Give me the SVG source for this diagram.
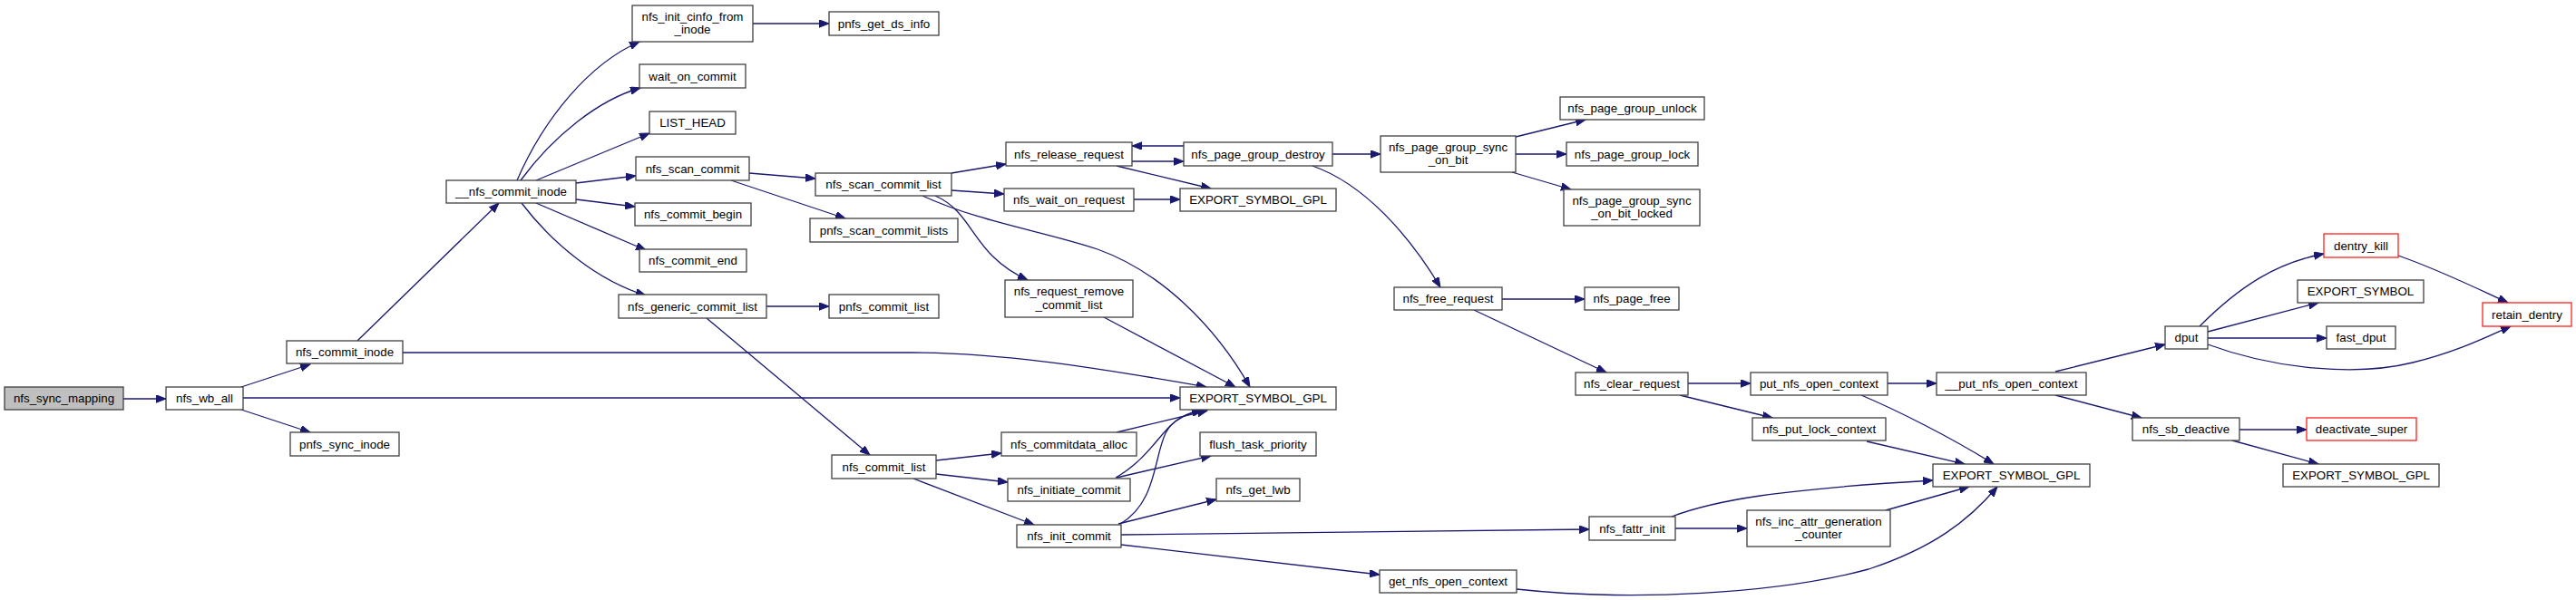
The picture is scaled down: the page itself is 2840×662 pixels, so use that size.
<svg xmlns="http://www.w3.org/2000/svg" width="2840" height="662" viewBox="0 0 2840 662">
<style>
.n rect{fill:#fff;stroke:#404040;stroke-width:1.3}
.root rect{fill:#bfbfbf}
.red rect{stroke:#ff2020}
text{font-family:"Liberation Sans",Arial,Helvetica,sans-serif;font-size:13.33px;fill:#000;text-anchor:middle}
#edges path{fill:none;stroke:#191970;stroke-width:1.3;marker-end:url(#arr)}
</style>
<defs>
<marker id="arr" markerUnits="userSpaceOnUse" markerWidth="12" markerHeight="9" refX="11" refY="4.25" orient="auto">
<path d="M0,0 L11,4.25 L0,8.5 z" fill="#191970" stroke="#191970" stroke-width="1"/>
</marker>
</defs>
<rect width="2840" height="662" fill="#fff"/>
<g id="edges">
<path d="M136,440 L183,440"/>
<path d="M266,427 L342,402"/>
<path d="M268,439 L1301,439"/>
<path d="M266,452 L342,477"/>
<path d="M394,376 L550,224"/>
<path d="M444,389 L1004,389 C1100,389 1200,404 1330,427"/>
<path d="M570,199 C600,130 650,70 705,46"/>
<path d="M574,199 C610,150 660,110 706,97"/>
<path d="M591,199 L716,147"/>
<path d="M635,202 L701,194"/>
<path d="M635,220 L700,228"/>
<path d="M591,224 L712,276"/>
<path d="M575,224 C610,270 660,310 712,326"/>
<path d="M830,26 L914,26"/>
<path d="M826,191 L899,197"/>
<path d="M806,199 L932,241"/>
<path d="M845,338 L914,338"/>
<path d="M779,351 L959,502"/>
<path d="M1049,191 L1109,181"/>
<path d="M1049,210 L1107,214"/>
<path d="M1031,216 C1075,235 1070,280 1133,309"/>
<path d="M1017,216 C1080,245 1150,255 1210,275 C1280,300 1340,360 1378,427"/>
<path d="M1248,178 L1305,178"/>
<path d="M1305,161 L1248,161"/>
<path d="M1231,183 L1335,208"/>
<path d="M1250,220 L1301,220"/>
<path d="M1469,170 L1522,170"/>
<path d="M1447,183 C1510,205 1560,270 1588,317"/>
<path d="M1671,151 L1748,132"/>
<path d="M1671,170 L1727,170"/>
<path d="M1667,190 L1732,209"/>
<path d="M1217,350 L1362,427"/>
<path d="M1656,330 L1747,330"/>
<path d="M1625,342 L1771,411"/>
<path d="M1861,423 L1930,423"/>
<path d="M1852,436 L1954,461"/>
<path d="M2081,423 L2135,423"/>
<path d="M2052,436 C2090,452 2150,482 2198,512"/>
<path d="M2058,487 L2166,512"/>
<path d="M1843,570 C1890,552 1960,540 2131,530"/>
<path d="M1847,583 L1926,583"/>
<path d="M2079,563 L2171,537"/>
<path d="M1672,650 C1800,664 1960,655 2060,628 C2130,605 2170,575 2202,537"/>
<path d="M1236,590 L1752,584"/>
<path d="M1236,601 L1521,634"/>
<path d="M1233,578 L1341,551"/>
<path d="M1235,578 C1275,555 1272,505 1285,478 C1293,462 1310,456 1325,452"/>
<path d="M1230,527 C1260,510 1275,485 1290,470 C1300,460 1312,455 1327,452"/>
<path d="M1231,527 L1335,503"/>
<path d="M1231,477 L1331,453"/>
<path d="M1032,508 L1104,500"/>
<path d="M1032,523 L1111,532"/>
<path d="M1007,528 L1140,579"/>
<path d="M2266,410 L2387,380"/>
<path d="M2266,436 L2361,461"/>
<path d="M2425,360 C2470,315 2510,290 2562,280"/>
<path d="M2434,366 L2556,334"/>
<path d="M2434,373 L2565,373"/>
<path d="M2434,380 C2510,408 2600,415 2660,400 C2710,388 2745,370 2768,360"/>
<path d="M2644,282 C2690,298 2730,318 2765,334"/>
<path d="M2469,474 L2543,474"/>
<path d="M2461,486 L2556,512"/>
</g>
<g id="nfs_sync_mapping" class="n root"><rect x="5" y="427" width="131" height="25"/><text x="70.5" y="444">nfs_sync_mapping</text></g>
<g id="nfs_wb_all" class="n"><rect x="183" y="427" width="85" height="25"/><text x="225.5" y="444">nfs_wb_all</text></g>
<g id="nfs_commit_inode" class="n"><rect x="316" y="376" width="128" height="25"/><text x="380" y="393">nfs_commit_inode</text></g>
<g id="pnfs_sync_inode" class="n"><rect x="320" y="477" width="120" height="26"/><text x="380" y="494.5">pnfs_sync_inode</text></g>
<g id="__nfs_commit_inode" class="n"><rect x="492" y="199" width="143" height="25"/><text x="563.5" y="216">__nfs_commit_inode</text></g>
<g id="nfs_init_cinfo_from_inode" class="n"><rect x="697" y="6" width="133" height="40"/><text x="763.5" y="22.5">nfs_init_cinfo_from</text><text x="763.5" y="37">_inode</text></g>
<g id="wait_on_commit" class="n"><rect x="705" y="71" width="117" height="26"/><text x="763.5" y="88.5">wait_on_commit</text></g>
<g id="LIST_HEAD" class="n"><rect x="716" y="123" width="95" height="25"/><text x="763.5" y="140">LIST_HEAD</text></g>
<g id="nfs_scan_commit" class="n"><rect x="701" y="173" width="125" height="26"/><text x="763.5" y="190.5">nfs_scan_commit</text></g>
<g id="nfs_commit_begin" class="n"><rect x="700" y="224" width="128" height="25"/><text x="764" y="241">nfs_commit_begin</text></g>
<g id="nfs_commit_end" class="n"><rect x="705" y="275" width="118" height="25"/><text x="764" y="292">nfs_commit_end</text></g>
<g id="nfs_generic_commit_list" class="n"><rect x="682" y="325" width="163" height="26"/><text x="763.5" y="342.5">nfs_generic_commit_list</text></g>
<g id="pnfs_get_ds_info" class="n"><rect x="914" y="13" width="121" height="26"/><text x="974.5" y="30.5">pnfs_get_ds_info</text></g>
<g id="nfs_scan_commit_list" class="n"><rect x="899" y="191" width="150" height="25"/><text x="974" y="208">nfs_scan_commit_list</text></g>
<g id="pnfs_scan_commit_lists" class="n"><rect x="893" y="241" width="163" height="26"/><text x="974.5" y="258.5">pnfs_scan_commit_lists</text></g>
<g id="pnfs_commit_list" class="n"><rect x="914" y="325" width="121" height="26"/><text x="974.5" y="342.5">pnfs_commit_list</text></g>
<g id="nfs_release_request" class="n"><rect x="1109" y="157" width="139" height="26"/><text x="1178.5" y="174.5">nfs_release_request</text></g>
<g id="nfs_wait_on_request" class="n"><rect x="1107" y="208" width="143" height="25"/><text x="1178.5" y="225">nfs_wait_on_request</text></g>
<g id="nfs_request_remove_commit_list" class="n"><rect x="1108" y="309" width="141" height="41"/><text x="1178.5" y="325.5">nfs_request_remove</text><text x="1178.5" y="340.5">_commit_list</text></g>
<g id="nfs_page_group_destroy" class="n"><rect x="1305" y="157" width="164" height="26"/><text x="1387" y="174.5">nfs_page_group_destroy</text></g>
<g id="EXPORT_SYMBOL_GPL_1" class="n"><rect x="1301" y="208" width="172" height="25"/><text x="1387" y="225">EXPORT_SYMBOL_GPL</text></g>
<g id="EXPORT_SYMBOL_GPL_2" class="n"><rect x="1301" y="427" width="172" height="25"/><text x="1387" y="444">EXPORT_SYMBOL_GPL</text></g>
<g id="nfs_commit_list" class="n"><rect x="917" y="502" width="115" height="26"/><text x="974.5" y="519.5">nfs_commit_list</text></g>
<g id="nfs_commitdata_alloc" class="n"><rect x="1104" y="477" width="149" height="26"/><text x="1178.5" y="494.5">nfs_commitdata_alloc</text></g>
<g id="nfs_initiate_commit" class="n"><rect x="1111" y="528" width="135" height="25"/><text x="1178.5" y="545">nfs_initiate_commit</text></g>
<g id="nfs_init_commit" class="n"><rect x="1121" y="579" width="115" height="25"/><text x="1178.5" y="596">nfs_init_commit</text></g>
<g id="flush_task_priority" class="n"><rect x="1323" y="477" width="128" height="26"/><text x="1387" y="494.5">flush_task_priority</text></g>
<g id="nfs_get_lwb" class="n"><rect x="1341" y="528" width="92" height="25"/><text x="1387" y="545">nfs_get_lwb</text></g>
<g id="nfs_page_group_sync_on_bit" class="n"><rect x="1522" y="150" width="149" height="40"/><text x="1596.5" y="166.5">nfs_page_group_sync</text><text x="1596.5" y="181">_on_bit</text></g>
<g id="nfs_page_group_unlock" class="n"><rect x="1720" y="107" width="159" height="25"/><text x="1799.5" y="124">nfs_page_group_unlock</text></g>
<g id="nfs_page_group_lock" class="n"><rect x="1727" y="157" width="145" height="26"/><text x="1799.5" y="174.5">nfs_page_group_lock</text></g>
<g id="nfs_page_group_sync_on_bit_locked" class="n"><rect x="1724" y="209" width="150" height="40"/><text x="1799" y="225.5">nfs_page_group_sync</text><text x="1799" y="240">_on_bit_locked</text></g>
<g id="nfs_free_request" class="n"><rect x="1537" y="317" width="119" height="25"/><text x="1596.5" y="334">nfs_free_request</text></g>
<g id="nfs_page_free" class="n"><rect x="1747" y="317" width="104" height="25"/><text x="1799" y="334">nfs_page_free</text></g>
<g id="nfs_clear_request" class="n"><rect x="1737" y="411" width="124" height="25"/><text x="1799" y="428">nfs_clear_request</text></g>
<g id="put_nfs_open_context" class="n"><rect x="1930" y="411" width="151" height="25"/><text x="2005.5" y="428">put_nfs_open_context</text></g>
<g id="nfs_put_lock_context" class="n"><rect x="1932" y="461" width="147" height="25"/><text x="2005.5" y="478">nfs_put_lock_context</text></g>
<g id="nfs_fattr_init" class="n"><rect x="1752" y="570" width="95" height="26"/><text x="1799.5" y="587.5">nfs_fattr_init</text></g>
<g id="nfs_inc_attr_generation_counter" class="n"><rect x="1926" y="563" width="158" height="40"/><text x="2005" y="579.5">nfs_inc_attr_generation</text><text x="2005" y="594">_counter</text></g>
<g id="get_nfs_open_context" class="n"><rect x="1521" y="629" width="151" height="25"/><text x="1596.5" y="646">get_nfs_open_context</text></g>
<g id="__put_nfs_open_context" class="n"><rect x="2135" y="411" width="165" height="25"/><text x="2217.5" y="428">__put_nfs_open_context</text></g>
<g id="EXPORT_SYMBOL_GPL_3" class="n"><rect x="2131" y="512" width="173" height="25"/><text x="2217.5" y="529">EXPORT_SYMBOL_GPL</text></g>
<g id="dput" class="n"><rect x="2387" y="360" width="47" height="25"/><text x="2410.5" y="377">dput</text></g>
<g id="fast_dput" class="n"><rect x="2565" y="360" width="76" height="25"/><text x="2603" y="377">fast_dput</text></g>
<g id="retain_dentry" class="n red"><rect x="2737" y="334" width="98" height="26"/><text x="2786" y="351.5">retain_dentry</text></g>
<g id="nfs_sb_deactive" class="n"><rect x="2351" y="461" width="118" height="25"/><text x="2410" y="478">nfs_sb_deactive</text></g>
<g id="deactivate_super" class="n red"><rect x="2543" y="461" width="121" height="25"/><text x="2603.5" y="478">deactivate_super</text></g>
<g id="EXPORT_SYMBOL_GPL_4" class="n"><rect x="2517" y="512" width="172" height="25"/><text x="2603" y="529">EXPORT_SYMBOL_GPL</text></g>
<g id="EXPORT_SYMBOL" class="n"><rect x="2533" y="309" width="139" height="25"/><text x="2602.5" y="326">EXPORT_SYMBOL</text></g>
<g id="dentry_kill" class="n red"><rect x="2562" y="258" width="82" height="26"/><text x="2603" y="275.5">dentry_kill</text></g>
</svg>
